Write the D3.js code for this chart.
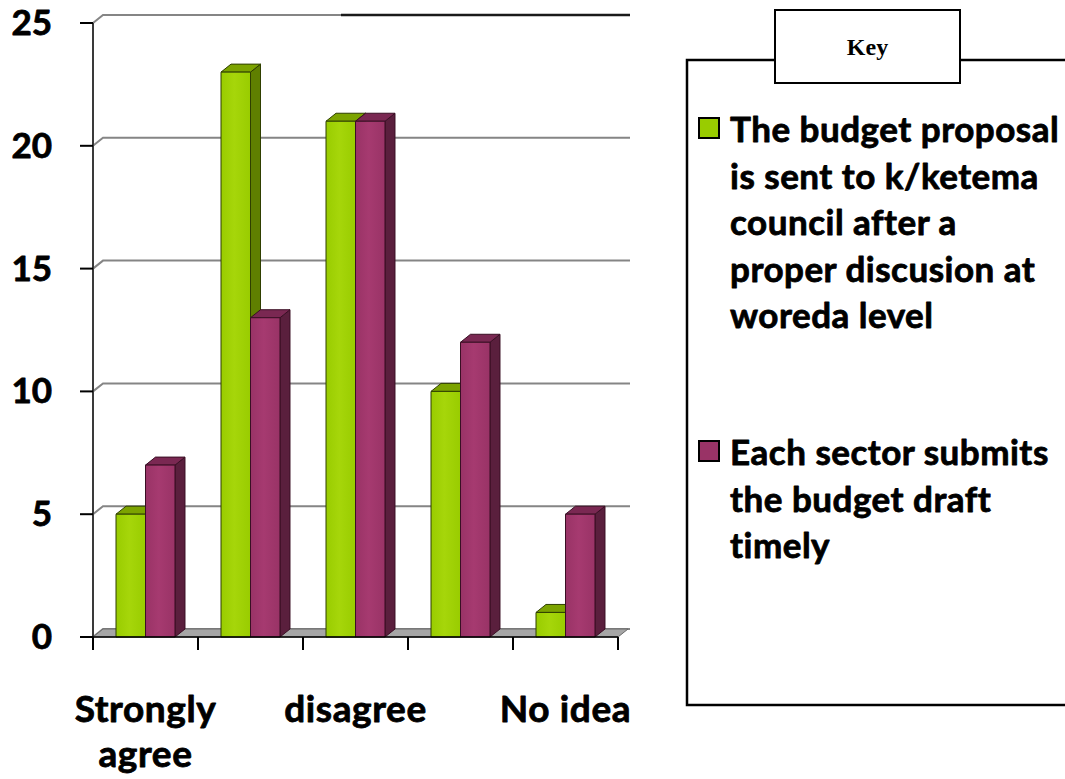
<!DOCTYPE html>
<html>
<head>
<meta charset="utf-8">
<script src="https://cdn.jsdelivr.net/npm/d3@7"></script>
<style>
  html, body { margin: 0; padding: 0; background: #ffffff; }
  svg { display: block; }
  text { font-family: Lato, "Open Sans", sans-serif; font-weight: 700; fill: #000; }
  text.heavy { stroke: #000; stroke-width: 0.8px; stroke-linejoin: round; }
</style>
</head>
<body>
<svg id="chart" width="1065" height="779"></svg>
<script>
// Survey responses per answer category
const categories = ["Strongly agree", "Agree", "disagree", "Strongly disagree", "No idea"];
// Only every second category label is printed on the axis
const shownLabels = [["Strongly", "agree"], null, ["disagree"], null, ["No idea"]];

const seriesNames = [
  "The budget proposal is sent to k/ketema council after a proper discusion at woreda level",
  "Each sector submits the budget draft timely"
];
const legendLines = [
  ["The budget proposal", "is sent to k/ketema", "council after a", "proper discusion at", "woreda level"],
  ["Each sector submits", "the budget draft", "timely"]
];
const proposalSent = [5, 23, 21, 10, 1];
const draftTimely  = [7, 13, 21, 12, 5];
const seriesValues = [proposalSent, draftTimely];

const yTicks = [0, 5, 10, 15, 20, 25];

// Face colours for each series: front, top, side
const palette = [
  { front: "#99cc00", light: "#a6d60a", top: "#7ca300", side: "#5f7f00", edge: "#2f3f00" },
  { front: "#993366", light: "#a63a70", top: "#7a2852", side: "#5a1f3d", edge: "#3a0f24" }
];

const svg = d3.select("#chart");

// Depth offset of the 3D floor, walls and columns
const DX = 10, DY = -8;

const y = d3.scaleLinear().domain([0, 25]).range([637, 23]);
const x0 = d3.scaleBand().domain(categories).range([93, 618]).paddingInner(0).paddingOuter(0);
const x1 = d3.scaleBand().domain(d3.range(seriesValues.length))
  .range([0, x0.bandwidth()]).paddingOuter(0.78).paddingInner(0);

const backRight = x0.range()[1] + DX + 2;

// Gradients for column fronts
const defs = svg.append("defs");
palette.forEach((p, i) => {
  const g = defs.append("linearGradient").attr("id", "front" + i)
    .attr("x1", "0%").attr("x2", "100%").attr("y1", "0%").attr("y2", "0%");
  g.append("stop").attr("offset", "0%").attr("stop-color", p.front);
  g.append("stop").attr("offset", "45%").attr("stop-color", p.light);
  g.append("stop").attr("offset", "100%").attr("stop-color", p.front);
});

// Gridlines on the side and back walls
const grid = svg.append("g");
yTicks.forEach(t => {
  const yf = y(t);
  grid.append("path")
    .attr("d", `M${x0.range()[0]},${yf} L${x0.range()[0] + DX},${yf + DY} L${backRight},${yf + DY}`)
    .attr("fill", "none").attr("stroke", "#858585").attr("stroke-width", 2);
});
// darker top border over the right part of the back wall
svg.append("line")
  .attr("x1", 341).attr("x2", backRight)
  .attr("y1", y(25) + DY).attr("y2", y(25) + DY)
  .attr("stroke", "#1a1a1a").attr("stroke-width", 2.5);

// Floor
const x0L = x0.range()[0], x0R = x0.range()[1], yb = y(0);
svg.append("polygon")
  .attr("points", [[x0L, yb], [x0R, yb], [x0R + DX, yb + DY], [x0L + DX, yb + DY]].map(p => p.join(",")).join(" "))
  .attr("fill", "#a6a6a6").attr("stroke", "#6a6a6a").attr("stroke-width", 1);

// Columns, drawn left to right so nearer faces cover the sides behind them
const bars = svg.append("g");
categories.forEach((c, ci) => {
  seriesValues.forEach((vals, si) => {
    const p = palette[si];
    const bx = x0(c) + x1(si);
    const bw = x1.bandwidth();
    const top = y(vals[ci]);
    const g = bars.append("g").attr("stroke", p.edge).attr("stroke-width", 1).attr("stroke-linejoin", "round");
    g.append("polygon")
      .attr("points", [[bx + bw, top], [bx + bw + DX, top + DY], [bx + bw + DX, yb + DY], [bx + bw, yb]].map(q => q.join(",")).join(" "))
      .attr("fill", p.side);
    g.append("polygon")
      .attr("points", [[bx, top], [bx + bw, top], [bx + bw + DX, top + DY], [bx + DX, top + DY]].map(q => q.join(",")).join(" "))
      .attr("fill", p.top);
    g.append("rect")
      .attr("x", bx).attr("y", top).attr("width", bw).attr("height", yb - top)
      .attr("fill", `url(#front${si})`);
  });
});

// Value axis
const yAxis = svg.append("g");
yAxis.append("line").attr("x1", x0L).attr("x2", x0L).attr("y1", y(25)).attr("y2", yb)
  .attr("stroke", "#3a3a3a").attr("stroke-width", 2);
yTicks.forEach(t => {
  yAxis.append("line").attr("x1", x0L - 13).attr("x2", x0L).attr("y1", y(t)).attr("y2", y(t))
    .attr("stroke", "#000").attr("stroke-width", 2);
  yAxis.append("text").attr("class", "heavy").attr("x", 52).attr("y", y(t) + 12)
    .attr("text-anchor", "end").style("font-size", "35px").text(t);
});

// Category axis
const xAxis = svg.append("g");
xAxis.append("line").attr("x1", x0L).attr("x2", x0R).attr("y1", yb).attr("y2", yb)
  .attr("stroke", "#000").attr("stroke-width", 1.5);
const boundaries = categories.map(c => x0(c)).concat([x0R]);
boundaries.forEach(bx => {
  xAxis.append("line").attr("x1", bx).attr("x2", bx).attr("y1", yb).attr("y2", yb + 13)
    .attr("stroke", "#000").attr("stroke-width", 2);
});
categories.forEach((c, ci) => {
  const lines = shownLabels[ci];
  if (!lines) return;
  const t = xAxis.append("text").attr("class", "heavy").attr("text-anchor", "middle")
    .style("font-size", "37px").style("letter-spacing", "0.6px");
  lines.forEach((ln, li) => {
    t.append("tspan").attr("x", x0(c) + x0.bandwidth() / 2).attr("y", 722 + li * 45).text(ln);
  });
});

// Legend
const legend = svg.append("g");
legend.append("rect").attr("x", 687).attr("y", 60).attr("width", 420).attr("height", 645)
  .attr("fill", "none").attr("stroke", "#000").attr("stroke-width", 2.5);
legend.append("rect").attr("x", 775).attr("y", 10).attr("width", 185).attr("height", 73)
  .attr("fill", "#fff").attr("stroke", "#000").attr("stroke-width", 2);
legend.append("text").attr("x", 867.5).attr("y", 55).attr("text-anchor", "middle")
  .style("font-family", "'Liberation Serif', 'Times New Roman', serif").style("font-size", "24px")
  .text("Key");

const legendTop = [118, 441];
seriesNames.forEach((name, si) => {
  const g = legend.append("g").attr("class", "legend-item").attr("data-series", name);
  g.append("rect").attr("x", 699).attr("y", legendTop[si]).attr("width", 20).attr("height", 20)
    .attr("fill", palette[si].front).attr("stroke", "#000").attr("stroke-width", 2);
  const t = g.append("text").attr("class", "heavy")
    .style("font-size", "35px").style("letter-spacing", "0.5px");
  legendLines[si].forEach((ln, li) => {
    t.append("tspan").attr("x", 730).attr("y", legendTop[si] + 24 + li * 46.5).text(ln);
  });
});
</script>
</body>
</html>
